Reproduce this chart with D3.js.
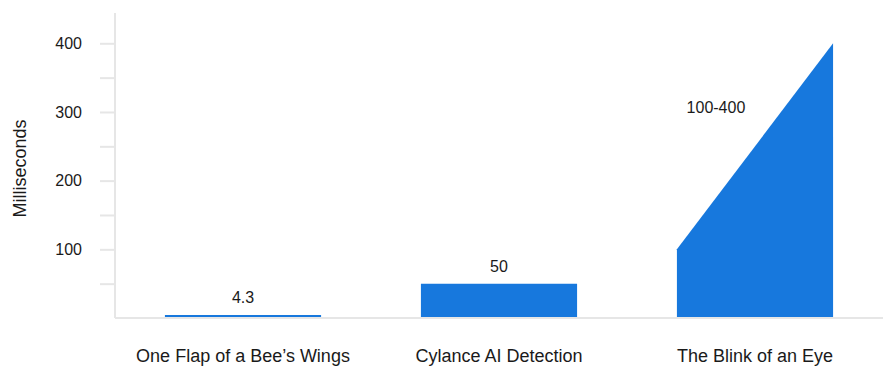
<!DOCTYPE html>
<html>
<head>
<meta charset="utf-8">
<script src="https://cdn.jsdelivr.net/npm/d3@7"></script>
<style>
  html, body { margin: 0; padding: 0; background: #fff; }
  svg { display: block; font-family: "Liberation Sans", Arial, sans-serif; }
</style>
</head>
<body>
<svg id="chart" width="887" height="367"></svg>
<script>
// ---- data ----
const categories = ["One Flap of a Bee\u2019s Wings", "Cylance AI Detection", "The Blink of an Eye"];
const lowValues  = [4.3, 50, 100];   // value at the left edge of each bar
const highValues = [4.3, 50, 400];   // value at the right edge of each bar
const valueLabels = ["4.3", "50", "100-400"];
const yTickValues = [50, 100, 150, 200, 250, 300, 350, 400];
const yTickLabels = ["", "100", "", "200", "", "300", "", "400"];
const yTitle = "Milliseconds";

// ---- layout ----
const W = 887, H = 367;
const plot = { left: 115, right: 883, top: 13, bottom: 318 };
const barColor = "#1778dd";
const axisColor = "#e6e6e6";
const textColor = "#1a1a1a";

const svg = d3.select("#chart");

const x = d3.scaleBand()
  .domain(categories)
  .range([plot.left, plot.right])
  .paddingInner(0.39)
  .paddingOuter(0.195);

const y = d3.scaleLinear()
  .domain([0, 400])
  .range([plot.bottom, 43.3]);

const data = categories.map((c, i) => ({
  cat: c, low: lowValues[i], high: highValues[i], label: valueLabels[i]
}));

// ---- y axis ticks ----
const yAxis = d3.axisLeft(y)
  .tickValues(yTickValues)
  .tickSize(14)
  .tickPadding(18)
  .tickFormat((d, i) => yTickLabels[i]);

const gy = svg.append("g")
  .attr("transform", `translate(${plot.left - 1},0)`)
  .call(yAxis);
gy.select(".domain").remove();
gy.selectAll(".tick line").attr("stroke", axisColor).attr("stroke-width", 2);
gy.selectAll(".tick text")
  .attr("fill", textColor)
  .style("font-size", "16px")
  .style("font-family", "'Liberation Sans', Arial, sans-serif");

// y axis line
svg.append("line")
  .attr("x1", plot.left).attr("x2", plot.left)
  .attr("y1", plot.top).attr("y2", plot.bottom)
  .attr("stroke", axisColor).attr("stroke-width", 2);

// ---- bars (polygons to support sloped range bar) ----
svg.append("g").selectAll("path")
  .data(data)
  .join("path")
  .attr("fill", barColor)
  .attr("d", d => {
    const x0 = x(d.cat), x1 = x(d.cat) + x.bandwidth();
    const y0 = y(0);
    return `M${x0},${y0}L${x0},${y(d.low)}L${x1},${y(d.high)}L${x1},${y0}Z`;
  });

// x axis line
svg.append("line")
  .attr("x1", plot.left).attr("x2", plot.right)
  .attr("y1", plot.bottom).attr("y2", plot.bottom)
  .attr("stroke", axisColor).attr("stroke-width", 2);

// ---- value labels ----
svg.append("g").selectAll("text")
  .data(data)
  .join("text")
  .attr("x", d => d.low === d.high
      ? x(d.cat) + x.bandwidth() / 2
      : x(d.cat) + x.bandwidth() / 4)
  .attr("y", d => d.low === d.high
      ? y(d.high) - 12
      : y(d.high) + 70)
  .attr("text-anchor", "middle")
  .attr("fill", textColor)
  .style("font-size", "16px")
  .text(d => d.label);

// ---- category labels ----
svg.append("g").selectAll("text")
  .data(categories)
  .join("text")
  .attr("x", d => x(d) + x.bandwidth() / 2)
  .attr("y", 362)
  .attr("text-anchor", "middle")
  .attr("fill", textColor)
  .style("font-size", "18px")
  .text(d => d);

// ---- y title ----
svg.append("text")
  .attr("transform", `translate(26,${(plot.top + plot.bottom) / 2 + 3}) rotate(-90)`)
  .attr("text-anchor", "middle")
  .attr("fill", textColor)
  .style("font-size", "18px")
  .text(yTitle);
</script>
</body>
</html>
